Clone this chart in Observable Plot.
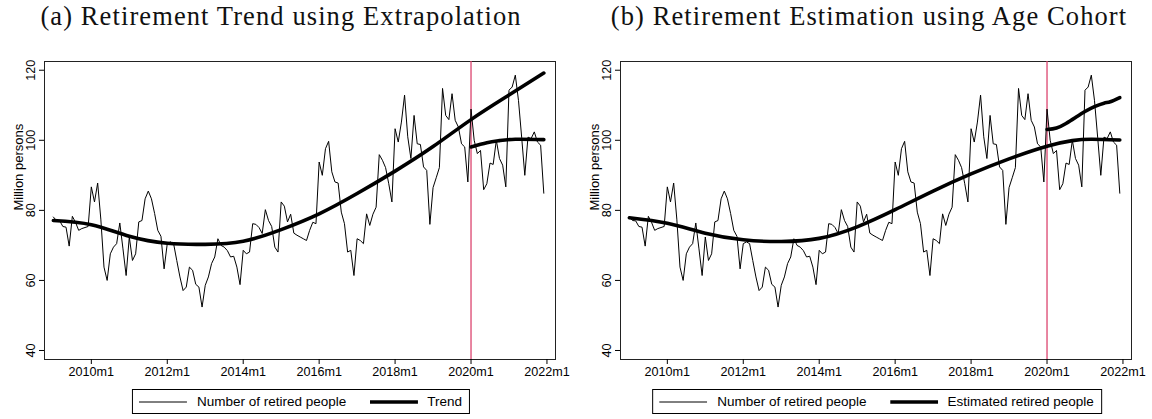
<!DOCTYPE html>
<html>
<head>
<meta charset="utf-8">
<script src="https://cdn.jsdelivr.net/npm/d3@7"></script>
<script src="https://cdn.jsdelivr.net/npm/@observablehq/plot@0.6"></script>
<style>
  body { margin: 0; background: #fff; }
  #wrap { position: relative; width: 1152px; height: 419px; overflow: hidden; font-family: "Liberation Sans", Arial, sans-serif; color: #000; }
  .panel { position: absolute; top: 0; width: 576px; height: 419px; }
  .title { position: absolute; top: 1px; font-family: "Liberation Serif", serif; font-size: 26.5px; letter-spacing: 1.1px; line-height: normal; white-space: nowrap; transform: translateX(-50%); color: #111; }
  .plot { position: absolute; top: 40px; left: 0; }
  .legend { position: absolute; top: 389px; height: 25px; box-sizing: border-box; border: 1px solid #000; display: flex; align-items: center; transform: translateX(-50%); font-size: 13.5px; padding: 0 7px 0 6px; white-space: nowrap; }
  .legend svg { display: block; }
</style>
</head>
<body>
<div id="wrap"></div>
<script>
// Monthly series starts at 2009m1
const startYear = 2009;

// Number of retired people, million persons, 2009m1 .. 2021m12
const retired = [
  78.1, 77.1, 77.0, 75.4, 75.2, 69.8, 78.3, 76.6, 74.3, 74.8, 75.1, 75.4,
  86.7, 82.4, 87.8, 77.5, 63.8, 60.0, 67.6, 69.5, 70.5, 76.4, 69.0, 61.4,
  72.4, 65.7, 67.6, 76.7, 77.1, 83.3, 85.5, 83.3, 79.1, 74.3, 72.6, 63.3,
  70.5, 71.0, 70.5, 65.7, 61.0, 57.1, 58.1, 63.8, 62.9, 58.9, 58.1, 52.4,
  58.6, 61.0, 64.8, 66.7, 71.9, 70.0, 69.5, 68.5, 66.7, 66.9, 63.8, 58.8,
  68.6, 67.6, 68.1, 76.2, 76.0, 75.1, 73.4, 80.2, 77.1, 75.4, 69.5, 68.1,
  82.4, 81.2, 76.7, 78.9, 73.5, 72.9, 72.4, 71.9, 71.4, 74.3, 76.6, 76.2,
  93.8, 90.0, 97.6, 99.7, 91.0, 88.1, 87.8, 79.5, 76.2, 68.1, 68.6, 61.4,
  71.9, 71.4, 70.5, 79.0, 75.7, 78.9, 80.9, 95.9, 94.3, 92.2, 87.6, 82.4,
  103.3, 99.5, 105.2, 112.9, 101.0, 94.8, 107.1, 99.0, 98.8, 92.4, 91.4, 76.0,
  86.5, 89.3, 92.2, 114.8, 107.1, 105.9, 113.3, 105.7, 103.8, 99.0, 98.1, 88.1,
  108.9, 100.0, 96.2, 97.1, 85.9, 87.6, 93.5, 93.1, 100.0, 94.8, 92.9, 86.7,
  114.3, 115.2, 118.6, 111.4, 100.9, 90.0, 100.9, 100.5, 102.4, 99.5, 98.6, 84.9
];

// Extrapolated trend (panel a)
const trendMonths = ["2009m1","2010m1","2011m1","2012m1","2013m1","2014m1","2015m1","2016m1","2017m1","2018m1","2019m1","2020m1","2021m1","2021m12"];
const trendValues = [77.1, 75.9, 72.6, 70.6, 70.3, 71.2, 74.5, 79.0, 84.8, 91.2, 98.2, 105.9, 112.9, 119.2];

// Post-2020 trend (panel a)
const postMonths = ["2020m1","2020m6","2020m10","2021m3","2021m12"];
const postValues = [98.1, 99.3, 99.9, 100.3, 100.2];

// Age-cohort estimate (panel b)
const cohortMonths = ["2009m1","2010m1","2011m1","2012m1","2013m1","2014m1","2015m1","2016m1","2017m1","2018m1","2019m1","2020m1","2020m9","2021m3","2021m12"];
const cohortValues = [77.9, 76.3, 73.5, 71.6, 71.1, 72.0, 75.3, 80.2, 85.5, 90.4, 94.7, 98.3, 99.9, 100.3, 100.1];

// Age-cohort estimate from 2020 on, upper path (panel b)
const cohortPostMonths = ["2020m1","2020m4","2020m7","2020m10","2021m1","2021m4","2021m7","2021m9","2021m12"];
const cohortPostValues = [103.1, 103.5, 104.8, 106.5, 108.2, 109.6, 110.6, 111.0, 112.2];

const tickLabels = ["2010m1","2012m1","2014m1","2016m1","2018m1","2020m1","2022m1"];
const yTicks = [40, 60, 80, 100, 120];
const breakMonth = "2020m1";

// "2014m7" -> months since startYear m1
const monthIndex = s => { const [y, m] = s.split("m").map(Number); return (y - startYear) * 12 + (m - 1); };
const knots = (months, values) => months.map((m, i) => ({t: monthIndex(m), v: values[i]}));
const series = retired.map((v, i) => ({t: i, v}));
const tickPos = tickLabels.map(monthIndex);
const labelAt = new Map(tickLabels.map(l => [monthIndex(l), l]));

const red = "#dc4470";
const font = '"Liberation Sans", Arial, sans-serif';

function chart(thick) {
  return Plot.plot({
    width: 576, height: 345,
    marginLeft: 44, marginRight: 21, marginTop: 21, marginBottom: 26,
    x: {domain: [-2.8, 158.7]},
    y: {domain: [37.43, 122.49]},
    style: {fontFamily: font, fontSize: "13px", color: "#000", background: "#fff", overflow: "visible"},
    marks: [
      Plot.frame({stroke: "#222", strokeWidth: 1}),
      Plot.axisY({ticks: yTicks, tickSize: 5, tickPadding: 4.5, tickRotate: -90, label: null, fontSize: 12.6}),
      Plot.axisX({ticks: tickPos, tickSize: 5, tickPadding: 3, tickFormat: t => labelAt.get(t), label: null, fontSize: 12.6}),
      Plot.text(["Million persons"], {frameAnchor: "left", dx: -26, rotate: -90, text: d => d, fontSize: 13}),
      Plot.ruleX([monthIndex(breakMonth)], {stroke: red, strokeWidth: 1.3}),
      Plot.line(series, {x: "t", y: "v", stroke: "#000", strokeWidth: 1, strokeLinejoin: "miter"}),
      ...thick.map(d => Plot.line(d, {x: "t", y: "v", curve: "natural", stroke: "#000", strokeWidth: 3.6}))
    ]
  });
}

function legend(items, center) {
  const box = document.createElement("div");
  box.className = "legend";
  box.style.left = center + "px";
  items.forEach((it, k) => {
    const svg = d3.create("svg").attr("width", 48).attr("height", 8)
      .style("margin-left", k === 0 ? "0px" : "24px");
    svg.append("line").attr("x1", 0).attr("x2", 48).attr("y1", 4).attr("y2", 4)
      .attr("stroke", "#000").attr("stroke-width", it.w);
    box.appendChild(svg.node());
    const span = document.createElement("span");
    span.textContent = it.label;
    span.style.marginLeft = k === 0 ? "10px" : "9px";
    box.appendChild(span);
  });
  return box;
}

function panel(left, title, titleCenter, thick, items) {
  const p = document.createElement("div");
  p.className = "panel";
  p.style.left = left + "px";
  const t = document.createElement("div");
  t.className = "title";
  t.style.left = titleCenter + "px";
  t.textContent = title;
  p.appendChild(t);
  const c = chart(thick);
  c.classList.add("plot");
  p.appendChild(c);
  p.appendChild(legend(items, 301));
  document.getElementById("wrap").appendChild(p);
}

panel(0, "(a) Retirement Trend using Extrapolation", 281,
  [knots(trendMonths, trendValues), knots(postMonths, postValues)],
  [{label: "Number of retired people", w: 1}, {label: "Trend", w: 3.6}]);

panel(576, "(b) Retirement Estimation using Age Cohort", 293,
  [knots(cohortMonths, cohortValues), knots(cohortPostMonths, cohortPostValues)],
  [{label: "Number of retired people", w: 1}, {label: "Estimated retired people", w: 3.6}]);
</script>
</body>
</html>
